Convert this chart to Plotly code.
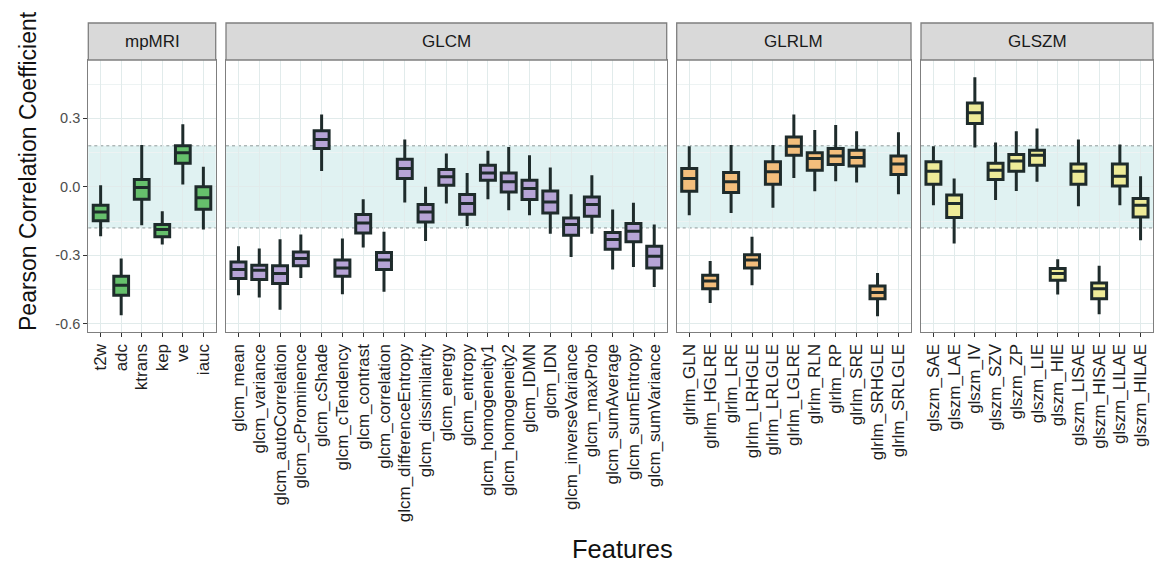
import plotly.graph_objects as go

# ---------------- data ----------------
panel_names = ["mpMRI", "GLCM", "GLRLM", "GLSZM"]

mp_features = ["t2w", "adc", "ktrans", "kep", "ve", "iauc"]
mp_lower = [-0.216, -0.563, -0.168, -0.253, 0.010, -0.187]
mp_q1 = [-0.149, -0.475, -0.054, -0.219, 0.103, -0.098]
mp_median = [-0.110, -0.431, -0.003, -0.187, 0.149, -0.048]
mp_q3 = [-0.080, -0.392, 0.032, -0.165, 0.180, 0.000]
mp_upper = [0.007, -0.314, 0.183, -0.107, 0.274, 0.088]

glcm_features = ["glcm_mean", "glcm_variance", "glcm_autoCorrelation", "glcm_cProminence",
                 "glcm_cShade", "glcm_cTendency", "glcm_contrast", "glcm_correlation",
                 "glcm_differenceEntropy", "glcm_dissimilarity", "glcm_energy", "glcm_entropy",
                 "glcm_homogeneity1", "glcm_homogeneity2", "glcm_IDMN", "glcm_IDN",
                 "glcm_inverseVariance", "glcm_maxProb", "glcm_sumAverage", "glcm_sumEntropy",
                 "glcm_sumVariance"]
glcm_lower = [-0.475, -0.485, -0.538, -0.399, 0.070, -0.471, -0.266, -0.460, -0.068, -0.237,
              -0.073, -0.171, -0.054, -0.102, -0.124, -0.205, -0.307, -0.205, -0.362, -0.351, -0.439]
glcm_q1 = [-0.402, -0.406, -0.424, -0.346, 0.168, -0.392, -0.202, -0.362, 0.037, -0.154,
           0.007, -0.120, 0.029, -0.022, -0.055, -0.114, -0.212, -0.129, -0.273, -0.241, -0.355]
glcm_median = [-0.362, -0.365, -0.380, -0.314, 0.208, -0.355, -0.158, -0.321, 0.081, -0.110,
               0.044, -0.073, 0.061, 0.022, -0.007, -0.066, -0.165, -0.077, -0.231, -0.194, -0.304]
glcm_q3 = [-0.329, -0.343, -0.346, -0.285, 0.246, -0.321, -0.121, -0.288, 0.121, -0.077,
           0.076, -0.033, 0.095, 0.061, 0.029, -0.018, -0.136, -0.044, -0.200, -0.161, -0.260]
glcm_upper = [-0.260, -0.270, -0.229, -0.209, 0.317, -0.226, -0.054, -0.197, 0.208, 0.000,
              0.146, 0.061, 0.158, 0.175, 0.139, 0.085, -0.032, 0.051, -0.099, -0.070, -0.165]

glrlm_features = ["glrlm_GLN", "glrlm_HGLRE", "glrlm_LRE", "glrlm_LRHGLE", "glrlm_LRLGLE",
                  "glrlm_LGLRE", "glrlm_RLN", "glrlm_RP", "glrlm_SRE", "glrlm_SRHGLE",
                  "glrlm_SRLGLE"]
glrlm_lower = [-0.124, -0.509, -0.114, -0.431, -0.092, 0.039, -0.019, 0.025, 0.019, -0.567, -0.032]
glrlm_q1 = [-0.019, -0.446, -0.025, -0.355, 0.012, 0.139, 0.073, 0.098, 0.091, -0.490, 0.054]
glrlm_median = [0.037, -0.412, 0.022, -0.321, 0.066, 0.178, 0.124, 0.135, 0.129, -0.463, 0.100]
glrlm_q3 = [0.081, -0.387, 0.063, -0.297, 0.110, 0.219, 0.149, 0.168, 0.161, -0.434, 0.135]
glrlm_upper = [0.178, -0.325, 0.183, -0.219, 0.183, 0.317, 0.249, 0.271, 0.244, -0.377, 0.239]

glszm_features = ["glszm_SAE", "glszm_LAE", "glszm_IV", "glszm_SZV", "glszm_ZP", "glszm_LIE",
                  "glszm_HIE", "glszm_LISAE", "glszm_HISAE", "glszm_LILAE", "glszm_HILAE"]
glszm_lower = [-0.080, -0.248, 0.173, -0.058, -0.018, 0.022, -0.472, -0.085, -0.558, -0.080, -0.234]
glszm_q1 = [0.012, -0.134, 0.278, 0.032, 0.069, 0.095, -0.409, 0.012, -0.490, 0.004, -0.132]
glszm_median = [0.069, -0.073, 0.325, 0.073, 0.113, 0.139, -0.380, 0.069, -0.446, 0.047, -0.080]
glszm_q3 = [0.110, -0.036, 0.368, 0.103, 0.142, 0.161, -0.358, 0.100, -0.421, 0.100, -0.051]
glszm_upper = [0.178, 0.037, 0.480, 0.195, 0.244, 0.256, -0.317, 0.208, -0.346, 0.186, 0.047]

y_ticks = [-0.6, -0.3, 0.0, 0.3]
y_tick_labels = ["-0.6", "-0.3", "0.0", "0.3"]
y_minor = [-0.45, -0.15, 0.15, 0.45]
band_limit = 0.18

# ---------------- styling ----------------
fills = ["#66C06C", "#B6A4D6", "#F3BE7C", "#EEEB98"]
outline = "#1E2B2B"
grid_col = "#E1EBEB"
minor_col = "#EDF3F3"
border_col = "#7F7F7F"
font_family = "Liberation Sans, Arial, sans-serif"

W, H = 1155, 566
ml, mr, mt, mb = 88, 2, 60, 234
pw = W - ml - mr
ph = H - mt - mb

def px_to_dom(a, b):
    return [max(0.0, (a - ml) / pw), min(1.0, (b - ml) / pw)]

domains = [px_to_dom(88.3, 215.7), px_to_dom(226, 666.7),
           px_to_dom(676.7, 911), px_to_dom(921, 1153)]

panels = [
    (mp_features, mp_lower, mp_q1, mp_median, mp_q3, mp_upper),
    (glcm_features, glcm_lower, glcm_q1, glcm_median, glcm_q3, glcm_upper),
    (glrlm_features, glrlm_lower, glrlm_q1, glrlm_median, glrlm_q3, glrlm_upper),
    (glszm_features, glszm_lower, glszm_q1, glszm_median, glszm_q3, glszm_upper),
]

fig = go.Figure()
shapes = []
annotations = []
y_range = [-0.636, 0.556]
strip_top = 1 + (mt - 23) / ph

for i, (feats, lo, q1, med, q3, up) in enumerate(panels):
    k = "" if i == 0 else str(i + 1)
    fig.add_trace(go.Box(
        x=feats, q1=q1, median=med, q3=q3, lowerfence=lo, upperfence=up,
        xaxis="x" + k, yaxis="y" + k,
        fillcolor=fills[i], line=dict(color=outline, width=3),
        whiskerwidth=0, width=0.72, boxpoints=False, showlegend=False,
        hoverinfo="y",
    ))
    n = len(feats)
    fig.update_layout(**{
        "xaxis" + k: dict(
            domain=domains[i], anchor="y" + k, type="category",
            categoryorder="array", categoryarray=feats,
            range=[-0.6, n - 0.4], showgrid=True, gridcolor=grid_col, gridwidth=1,
            showline=True, linecolor=border_col, linewidth=1.3, mirror=True,
            ticks="outside", ticklen=4, tickcolor="#333333", tickwidth=1,
            tickangle=-90, tickfont=dict(family=font_family, size=17, color="#1E1E1E"),
            zeroline=False, fixedrange=True,
        ),
        "yaxis" + k: dict(
            domain=[0, 1], anchor="x" + k, range=y_range,
            tickvals=y_ticks, ticktext=y_tick_labels,
            showticklabels=(i == 0), ticks="outside" if i == 0 else "",
            ticklen=4, tickcolor="#333333",
            tickfont=dict(family=font_family, size=14.5, color="#4D4D4D"),
            showgrid=True, gridcolor=grid_col, gridwidth=1,
            minor=dict(tickvals=y_minor, showgrid=True, gridcolor=minor_col, ticks=""),
            showline=True, linecolor=border_col, linewidth=1.3, mirror=True,
            zeroline=False, fixedrange=True,
        ),
    })
    # reference band (+/- band_limit) drawn below the grid
    shapes.append(dict(type="rect", xref="paper", yref="y" + k,
                       x0=domains[i][0], x1=domains[i][1], y0=-band_limit, y1=band_limit,
                       fillcolor="#E0F2F2", line=dict(width=0), layer="below"))
    for yv in (-band_limit, band_limit):
        shapes.append(dict(type="line", xref="paper", yref="y" + k,
                           x0=domains[i][0], x1=domains[i][1], y0=yv, y1=yv,
                           line=dict(color="#8F9A9A", width=1, dash="dot"), layer="below"))
    # facet strip
    shapes.append(dict(type="rect", xref="paper", yref="paper",
                       x0=domains[i][0], x1=domains[i][1], y0=1, y1=strip_top,
                       fillcolor="#D9D9D9", line=dict(color=border_col, width=1.3),
                       layer="above"))
    annotations.append(dict(text=panel_names[i], xref="paper", yref="paper",
                            x=(domains[i][0] + domains[i][1]) / 2, y=(1 + strip_top) / 2,
                            showarrow=False, xanchor="center", yanchor="middle",
                            font=dict(family=font_family, size=17, color="#1A1A1A")))

# axis titles
annotations.append(dict(text="Features", xref="paper", yref="paper",
                        x=(622 - ml) / pw, y=1 - (549 - mt) / ph,
                        showarrow=False, xanchor="center", yanchor="middle",
                        font=dict(family=font_family, size=25.5, color="#111111")))
annotations.append(dict(text="Pearson Correlation Coefficient", xref="paper", yref="paper",
                        x=(28 - ml) / pw, y=1 - (171 - mt) / ph, textangle=-90,
                        showarrow=False, xanchor="center", yanchor="middle",
                        font=dict(family=font_family, size=23, color="#111111")))

fig.update_layout(
    width=W, height=H, margin=dict(l=ml, r=mr, t=mt, b=mb, pad=0),
    paper_bgcolor="white", plot_bgcolor="white",
    shapes=shapes, annotations=annotations, showlegend=False,
    font=dict(family=font_family),
)

fig.write_html("out.html")
